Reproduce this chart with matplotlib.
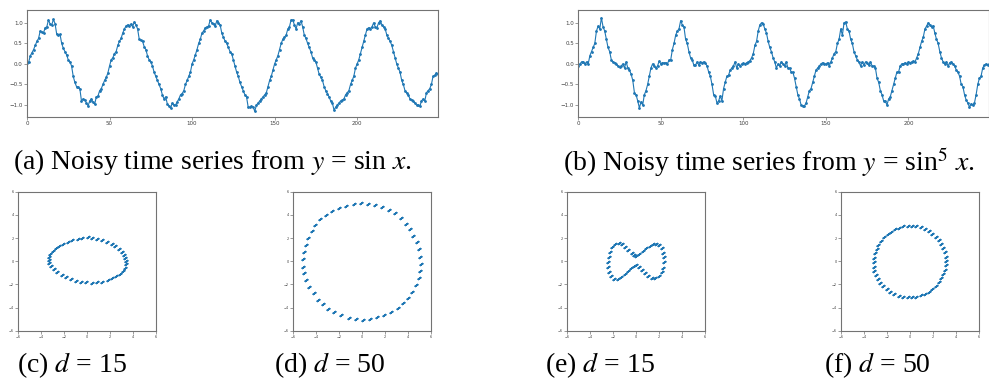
import matplotlib.pyplot as plt

plt.rcParams['mathtext.fontset'] = 'stix'
plt.rcParams['font.family'] = ['Liberation Serif', 'DejaVu Serif']

# noisy y = sin x, 250 samples
sin_series = [
    0.02, 0.04, 0.20, 0.27, 0.35, 0.45, 0.55, 0.62, 0.80, 0.77,
    0.75, 0.88, 0.90, 1.07, 0.97, 0.95, 1.08, 0.98, 0.72, 0.70,
    0.72, 0.50, 0.38, 0.30, 0.22, 0.10, 0.05, -0.05, -0.30, -0.45,
    -0.55, -0.57, -0.60, -0.90, -0.85, -0.87, -0.95, -1.02, -0.90, -0.85,
    -0.93, -0.98, -0.80, -0.78, -0.65, -0.60, -0.50, -0.40, -0.33, -0.22,
    -0.05, 0.10, 0.15, 0.25, 0.30, 0.45, 0.55, 0.62, 0.75, 0.85,
    0.92, 0.95, 0.92, 0.97, 0.90, 1.02, 0.95, 0.85, 0.60, 0.57,
    0.55, 0.42, 0.35, 0.20, 0.10, 0.05, -0.05, -0.20, -0.30, -0.40,
    -0.50, -0.60, -0.75, -0.85, -0.80, -0.97, -1.02, -1.08, -0.95, -1.00,
    -1.00, -0.92, -0.85, -0.75, -0.72, -0.65, -0.50, -0.40, -0.30, -0.20,
    0.00, 0.10, 0.22, 0.35, 0.50, 0.60, 0.75, 0.80, 0.88, 0.90,
    0.92, 1.07, 1.00, 0.97, 0.92, 1.05, 1.00, 0.95, 0.75, 0.65,
    0.55, 0.50, 0.40, 0.30, 0.25, 0.10, -0.05, -0.20, -0.30, -0.45,
    -0.55, -0.65, -0.75, -0.80, -1.05, -1.05, -1.03, -1.05, -1.15, -1.00,
    -0.95, -0.90, -0.85, -0.80, -0.75, -0.70, -0.55, -0.40, -0.30, -0.15,
    0.00, 0.10, 0.20, 0.35, 0.50, 0.60, 0.65, 0.70, 0.85, 0.90,
    1.07, 1.07, 0.95, 0.85, 1.00, 0.97, 1.05, 0.90, 0.70, 0.62,
    0.50, 0.40, 0.30, 0.15, 0.10, 0.05, -0.10, -0.25, -0.32, -0.40,
    -0.55, -0.65, -0.72, -0.80, -0.90, -0.95, -1.12, -1.05, -1.00, -0.95,
    -0.90, -0.88, -0.85, -0.75, -0.70, -0.65, -0.50, -0.40, -0.30, -0.10,
    0.00, 0.10, 0.25, 0.40, 0.55, 0.70, 0.85, 0.88, 0.85, 0.90,
    1.00, 0.90, 0.88, 1.00, 1.05, 0.95, 0.90, 0.85, 0.70, 0.62,
    0.55, 0.45, 0.30, 0.15, 0.00, -0.10, -0.20, -0.40, -0.50, -0.65,
    -0.70, -0.75, -0.85, -0.88, -0.90, -0.95, -1.00, -1.00, -1.03, -0.90,
    -0.85, -0.90, -0.70, -0.65, -0.60, -0.50, -0.30, -0.28, -0.22, -0.25,
]

# noisy y = sin^5 x, 250 samples
sin5_series = [
    -0.05, 0.00, 0.05, 0.05, 0.00, 0.05, 0.00, 0.20, 0.30, 0.40,
    0.50, 0.80, 0.92, 0.85, 1.12, 0.90, 0.80, 0.60, 0.40, 0.30,
    0.10, 0.05, 0.03, 0.00, -0.05, -0.08, -0.05, 0.00, -0.10, 0.05,
    -0.10, -0.15, -0.25, -0.40, -0.70, -0.75, -0.90, -1.07, -0.92, -1.00,
    -0.75, -0.65, -0.50, -0.30, -0.10, 0.00, -0.05, -0.10, -0.05, 0.07,
    0.00, 0.03, 0.02, 0.03, 0.00, 0.10, 0.10, 0.35, 0.50, 0.70,
    0.80, 0.85, 1.05, 0.95, 0.90, 0.60, 0.50, 0.30, 0.15, 0.10,
    -0.03, -0.03, 0.05, -0.03, 0.05, 0.03, 0.05, 0.02, -0.05, -0.20,
    -0.30, -0.50, -0.75, -0.78, -0.95, -0.90, -0.78, -0.90, -0.60, -0.45,
    -0.30, -0.28, -0.15, -0.10, -0.05, 0.05, -0.10, 0.00, -0.05, 0.00,
    0.02, 0.00, 0.03, 0.05, 0.08, 0.15, 0.25, 0.45, 0.55, 0.80,
    0.95, 1.00, 0.97, 0.85, 0.75, 0.55, 0.40, 0.30, 0.15, 0.05,
    -0.10, 0.00, -0.05, 0.05, 0.00, -0.05, 0.05, -0.10, -0.10, -0.20,
    -0.20, -0.35, -0.55, -0.75, -0.85, -1.00, -1.02, -1.02, -0.95, -0.80,
    -0.65, -0.60, -0.45, -0.30, -0.15, -0.10, -0.05, 0.00, 0.03, 0.00,
    0.00, 0.03, -0.05, 0.05, 0.15, 0.25, 0.30, 0.50, 0.60, 0.85,
    0.70, 1.00, 1.02, 0.85, 0.80, 0.60, 0.50, 0.30, 0.20, 0.10,
    0.05, -0.05, 0.05, -0.03, 0.05, 0.02, -0.03, 0.05, -0.05, -0.05,
    -0.10, -0.35, -0.45, -0.65, -0.75, -0.90, -0.90, -1.00, -0.85, -0.80,
    -0.65, -0.50, -0.35, -0.20, -0.20, -0.05, 0.00, 0.00, 0.03, 0.00,
    0.05, 0.03, 0.05, 0.07, 0.05, 0.15, 0.25, 0.40, 0.55, 0.65,
    0.85, 0.92, 1.00, 0.95, 0.90, 0.93, 0.75, 0.60, 0.50, 0.30,
    0.15, 0.05, 0.00, 0.05, -0.05, 0.03, 0.05, 0.00, -0.05, -0.15,
    -0.20, -0.30, -0.50, -0.55, -0.75, -0.88, -0.95, -1.05, -0.97, -1.00,
    -0.95, -0.75, -0.50, -0.35, -0.30, -0.10, -0.03, 0.00, -0.03, 0.00,
]

# embeddings (cluster centres)
c_x = [-1.72, -1.29, -0.85, -0.42, 0.02, 0.45, 0.88, 1.32, 1.72, 2.13,
       2.44, 2.73, 2.99, 3.17, 3.31, 3.37, 3.34, 3.25, 3.08, 2.85,
       2.53, 2.18, 1.78, 1.32, 0.85, 0.39, -0.07, -0.53, -1.00, -1.43,
       -1.84, -2.24, -2.62, -2.93, -3.17, -3.31, -3.37, -3.34, -3.22, -3.02,
       -2.76, -2.44, -2.10]
c_y = [1.63, 1.80, 1.94, 2.03, 2.06, 2.03, 1.94, 1.83, 1.68, 1.51,
       1.28, 1.05, 0.82, 0.53, 0.30, 0.01, -0.27, -0.56, -0.85, -1.08,
       -1.31, -1.48, -1.65, -1.77, -1.83, -1.86, -1.83, -1.77, -1.68, -1.54,
       -1.37, -1.17, -0.94, -0.68, -0.42, -0.16, 0.10, 0.39, 0.65, 0.91,
       1.14, 1.34, 1.51]

d_x = [-0.73, -0.15, 0.50, 1.08, 1.70, 2.28, 2.87, 3.36, 3.77, 4.16,
       4.45, 4.74, 4.92, 5.06, 5.09, 5.03, 4.92, 4.68, 4.33, 3.95,
       3.54, 3.07, 2.49, 1.90, 1.32, 0.67, 0.03, -0.59, -1.20, -1.84,
       -2.43, -2.99, -3.45, -3.89, -4.24, -4.60, -4.89, -5.03, -5.12, -5.12,
       -5.06, -4.92, -4.68, -4.39, -4.07, -3.66, -3.13, -2.61, -2.05, -1.41]
d_y = [4.94, 4.99, 4.94, 4.85, 4.65, 4.42, 4.13, 3.70, 3.24, 2.75,
       2.20, 1.63, 1.02, 0.39, -0.24, -0.85, -1.48, -2.06, -2.63, -3.15,
       -3.64, -4.07, -4.42, -4.65, -4.85, -4.99, -5.05, -4.99, -4.88, -4.68,
       -4.42, -4.10, -3.70, -3.32, -2.78, -2.20, -1.63, -1.05, -0.47, 0.19,
       0.82, 1.40, 2.03, 2.60, 3.12, 3.61, 3.99, 4.36, 4.59, 4.79]

e_x = [0.01, 0.33, 0.62, 0.91, 1.21, 1.50, 1.79, 2.05, 2.25, 2.37,
       2.43, 2.45, 2.40, 2.25, 2.02, 1.70, 1.38, 1.06, 0.77, 0.51,
       0.28, 0.04, -0.19, -0.42, -0.68, -0.97, -1.26, -1.58, -1.87, -2.11,
       -2.28, -2.37, -2.40, -2.34, -2.22, -2.02, -1.76, -1.47, -1.18, -0.89,
       -0.63, -0.36, -0.16]
e_y = [0.45, 0.62, 0.88, 1.11, 1.34, 1.48, 1.51, 1.40, 1.11, 0.73,
       0.33, -0.10, -0.56, -0.96, -1.31, -1.48, -1.42, -1.25, -1.02, -0.73,
       -0.47, -0.30, -0.42, -0.62, -0.88, -1.14, -1.37, -1.51, -1.51, -1.31,
       -0.96, -0.53, -0.10, 0.36, 0.82, 1.22, 1.48, 1.54, 1.45, 1.22,
       0.96, 0.71, 0.50]

f_x = [-0.61, -0.20, 0.18, 0.55, 0.93, 1.28, 1.63, 1.95, 2.24, 2.51,
       2.71, 2.88, 3.00, 3.09, 3.12, 3.09, 3.00, 2.88, 2.71, 2.51,
       2.24, 1.95, 1.63, 1.28, 0.93, 0.55, 0.18, -0.20, -0.61, -0.99,
       -1.37, -1.72, -2.04, -2.33, -2.59, -2.80, -2.97, -3.09, -3.15, -3.17,
       -3.15, -3.06, -2.91, -2.74, -2.50, -2.24, -1.95, -1.63, -1.31, -0.96]
f_y = [3.01, 3.06, 3.06, 3.01, 2.92, 2.78, 2.60, 2.37, 2.09, 1.80,
       1.45, 1.11, 0.76, 0.39, 0.01, -0.36, -0.76, -1.14, -1.48, -1.83,
       -2.12, -2.40, -2.63, -2.81, -2.95, -3.06, -3.12, -3.12, -3.06, -2.98,
       -2.83, -2.66, -2.43, -2.17, -1.88, -1.57, -1.22, -0.85, -0.47, -0.10,
       0.30, 0.68, 1.05, 1.42, 1.77, 2.06, 2.32, 2.55, 2.75, 2.89]

blue = '#1f77b4'
W, H = 989, 387


def frame(ax, size):
    for s in ax.spines.values():
        s.set_color('0.45')
        s.set_linewidth(0.8)
    ax.tick_params(labelsize=size, length=2, width=0.5, pad=1,
                   colors='0.45', labelcolor='0.25')
    for lab in ax.get_xticklabels() + ax.get_yticklabels():
        lab.set_family('DejaVu Sans')


fig = plt.figure(figsize=(W / 100, H / 100), dpi=100)

# top row: time series
for left, series in [(27, sin_series), (578.3, sin5_series)]:
    ax = fig.add_axes([left / W, 1 - 117 / H, 411 / W, 107 / H])
    ax.plot(range(len(series)), series, '.-', color=blue, lw=0.8, ms=2)
    ax.set_xlim(0, 249)
    ax.set_ylim(-1.29, 1.31)
    ax.set_xticks([0, 50, 100, 150, 200])
    ax.set_yticks([-1.0, -0.5, 0.0, 0.5, 1.0])
    frame(ax, 4)

# bottom row: embeddings
for left, xs, ys in [(18.3, c_x, c_y), (293.3, d_x, d_y),
                     (566.7, e_x, e_y), (841, f_x, f_y)]:
    ax = fig.add_axes([left / W, 1 - 330.7 / H, 138 / W, 139 / H])
    ax.plot(xs, ys, linestyle='none', marker=(2, 2, -55), color=blue,
            ms=3, mew=1.2)
    ax.set_xlim(-6, 6)
    ax.set_ylim(-6, 6)
    ax.set_xticks(range(-6, 7, 2))
    ax.set_yticks(range(-6, 7, 2))
    frame(ax, 2.5)

caps = [
    (212, 162, r'(a) Noisy time series from $y$ = sin $x$.'),
    (769, 162, r'(b) Noisy time series from $y$ = sin$^5$ $x$.'),
    (72, 365, r'(c) $d$ = 15'),
    (330, 365, r'(d) $d$ = 50'),
    (600, 365, r'(e) $d$ = 15'),
    (877, 365, r'(f) $d$ = 50'),
]
for cx, cy, txt in caps:
    fig.text(cx / W, 1 - cy / H, txt, ha='center', va='center', fontsize=20)

fig.savefig('out.png', dpi=100)
